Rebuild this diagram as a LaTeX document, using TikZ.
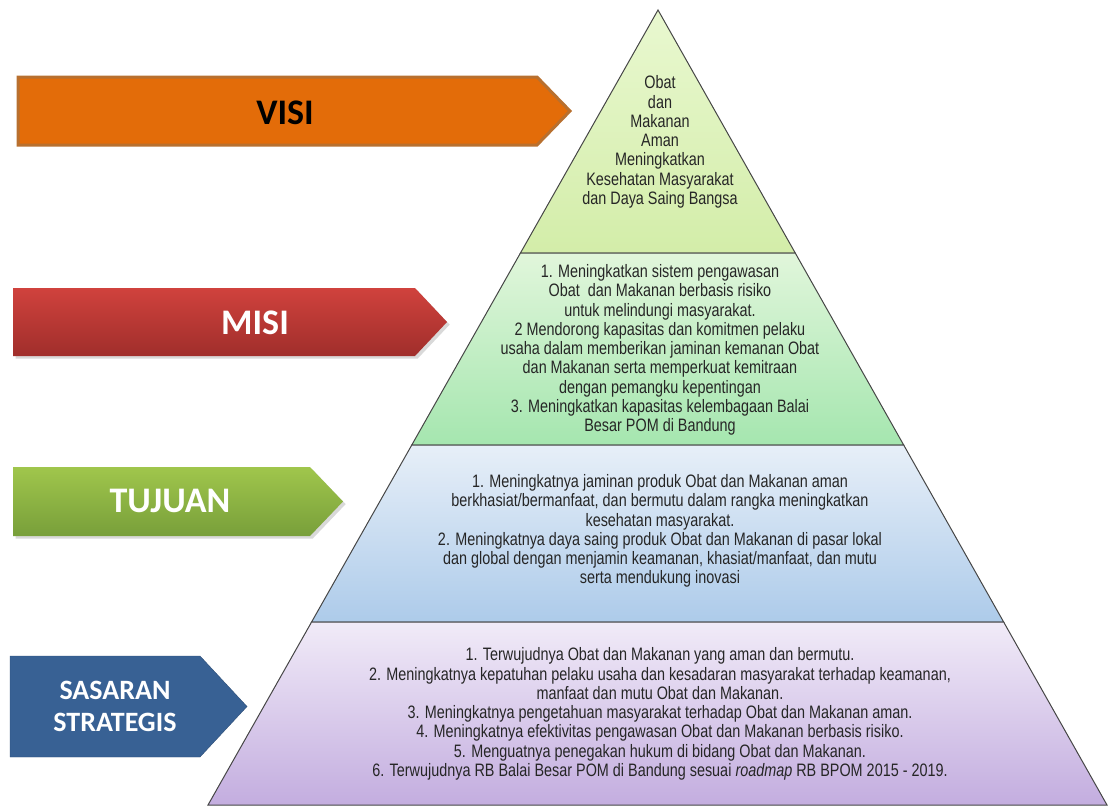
\documentclass[tikz,border=0pt]{standalone}
\usepackage{fontspec}
\setmainfont{Liberation Sans}
\newfontfamily\narrowfont[FakeStretch=0.80]{Liberation Sans}
\newfontfamily\labelfont{Carlito}
\usetikzlibrary{calc}
\usetikzlibrary{shadows}
\definecolor{visiorange}{HTML}{E36C09}
\definecolor{visiedge}{HTML}{B8702F}
\definecolor{misitop}{HTML}{D0423D}
\definecolor{misibot}{HTML}{A02E2B}
\definecolor{tujuantop}{HTML}{A0C64C}
\definecolor{tujuanbot}{HTML}{789F3A}
\definecolor{sasaranblue}{HTML}{386194}
\definecolor{toplight}{HTML}{E9F8D0}
\definecolor{topdark}{HTML}{D3EDA9}
\definecolor{greenlight}{HTML}{E1F6DB}
\definecolor{greendark}{HTML}{A5E6AF}
\definecolor{bluelight}{HTML}{E7EFF8}
\definecolor{bluedark}{HTML}{ADCBEA}
\definecolor{purplelight}{HTML}{F1EBF8}
\definecolor{purpledark}{HTML}{C3ADDF}
\newcommand{\banner}[6]{\path[#6] (#1,#2) -- (#3,#2) -- (#4,{(#2+#5)/2}) -- (#3,#5) -- (#1,#5) -- cycle;}
\newcommand{\layer}[4]{\path[layerline, top color=#3, bottom color=#4] ($(apex)!#1!(bl)$) -- ($(apex)!#1!(br)$) -- ($(apex)!#2!(br)$) -- ($(apex)!#2!(bl)$) -- cycle;}

\begin{document}
\begin{tikzpicture}[x=1pt, y=-1pt,
    layerline/.style={draw=gray!55!black, line width=1pt},
    pyrtext/.style={align=center, text=black!85, font=\narrowfont\fontsize{18}{19.3}\selectfont},
    bigtag/.style={font=\labelfont\bfseries\fontsize{36}{40}\selectfont}]
        \useasboundingbox (0,0) rectangle (1111,809);
        \coordinate (apex) at (658,10);
        \coordinate (bl) at (208,805);
        \coordinate (br) at (1107,805);
        % pyramid
        \path[layerline, top color=toplight, bottom color=topdark] (apex) -- ($(apex)!0.3057!(br)$) -- ($(apex)!0.3057!(bl)$) -- cycle;
        \layer{0.3057}{0.5472}{greenlight}{greendark}
        \layer{0.5472}{0.7698}{bluelight}{bluedark}
        \layer{0.7698}{1}{purplelight}{purpledark}
        % banners
        \banner{18}{77}{537}{570}{145}{fill=visiorange, draw=visiedge, line width=3pt}
        \banner{13}{288}{415}{447}{356}{top color=misitop, bottom color=misibot, drop shadow={opacity=0.3}}
        \banner{13}{467}{310}{343}{536}{top color=tujuantop, bottom color=tujuanbot, drop shadow={opacity=0.3}}
        \banner{10}{656}{200}{247}{757}{fill=sasaranblue, draw=sasaranblue!80!black}
        % labels
        \node[bigtag] (visi) at (285,113) {VISI};
        \node[bigtag, text=white] (misi) at (255,323) {MISI};
        \node[bigtag, text=white] (tujuan) at (170,501) {TUJUAN};
        \node[align=center, text=white, font=\labelfont\bfseries\fontsize{28}{32}\selectfont] (sasaran) at (115,706) {SASARAN\\STRATEGIS};
        % texts
        \node[pyrtext] (visitext) at (660,142) {Obat\\dan\\Makanan\\Aman\\Meningkatkan\\Kesehatan Masyarakat\\dan Daya Saing Bangsa};
        \node[pyrtext] (misitext) at (660,350) {1. Meningkatkan sistem pengawasan\\Obat\ \ dan Makanan berbasis risiko\\untuk melindungi masyarakat.\\2 Mendorong kapasitas dan komitmen pelaku\\usaha dalam memberikan jaminan kemanan Obat\\dan Makanan serta memperkuat kemitraan\\dengan pemangku kepentingan\\3. Meningkatkan kapasitas kelembagaan Balai\\Besar POM di Bandung};
        \node[pyrtext] (tujuantext) at (660,531) {1. Meningkatnya jaminan produk Obat dan Makanan aman\\berkhasiat/bermanfaat, dan bermutu dalam rangka meningkatkan\\kesehatan masyarakat.\\2. Meningkatnya daya saing produk Obat dan Makanan di pasar lokal\\dan global dengan menjamin keamanan, khasiat/manfaat, dan mutu\\serta mendukung inovasi};
        \node[pyrtext] (sasarantext) at (660,714) {1. Terwujudnya Obat dan Makanan yang aman dan bermutu.\\2. Meningkatnya kepatuhan pelaku usaha dan kesadaran masyarakat terhadap keamanan,\\manfaat dan mutu Obat dan Makanan.\\3. Meningkatnya pengetahuan masyarakat terhadap Obat dan Makanan aman.\\4. Meningkatnya efektivitas pengawasan Obat dan Makanan berbasis risiko.\\5. Menguatnya penegakan hukum di bidang Obat dan Makanan.\\6. Terwujudnya RB Balai Besar POM di Bandung sesuai \textit{roadmap} RB BPOM 2015 - 2019.};
    \end{tikzpicture}
\end{document}
